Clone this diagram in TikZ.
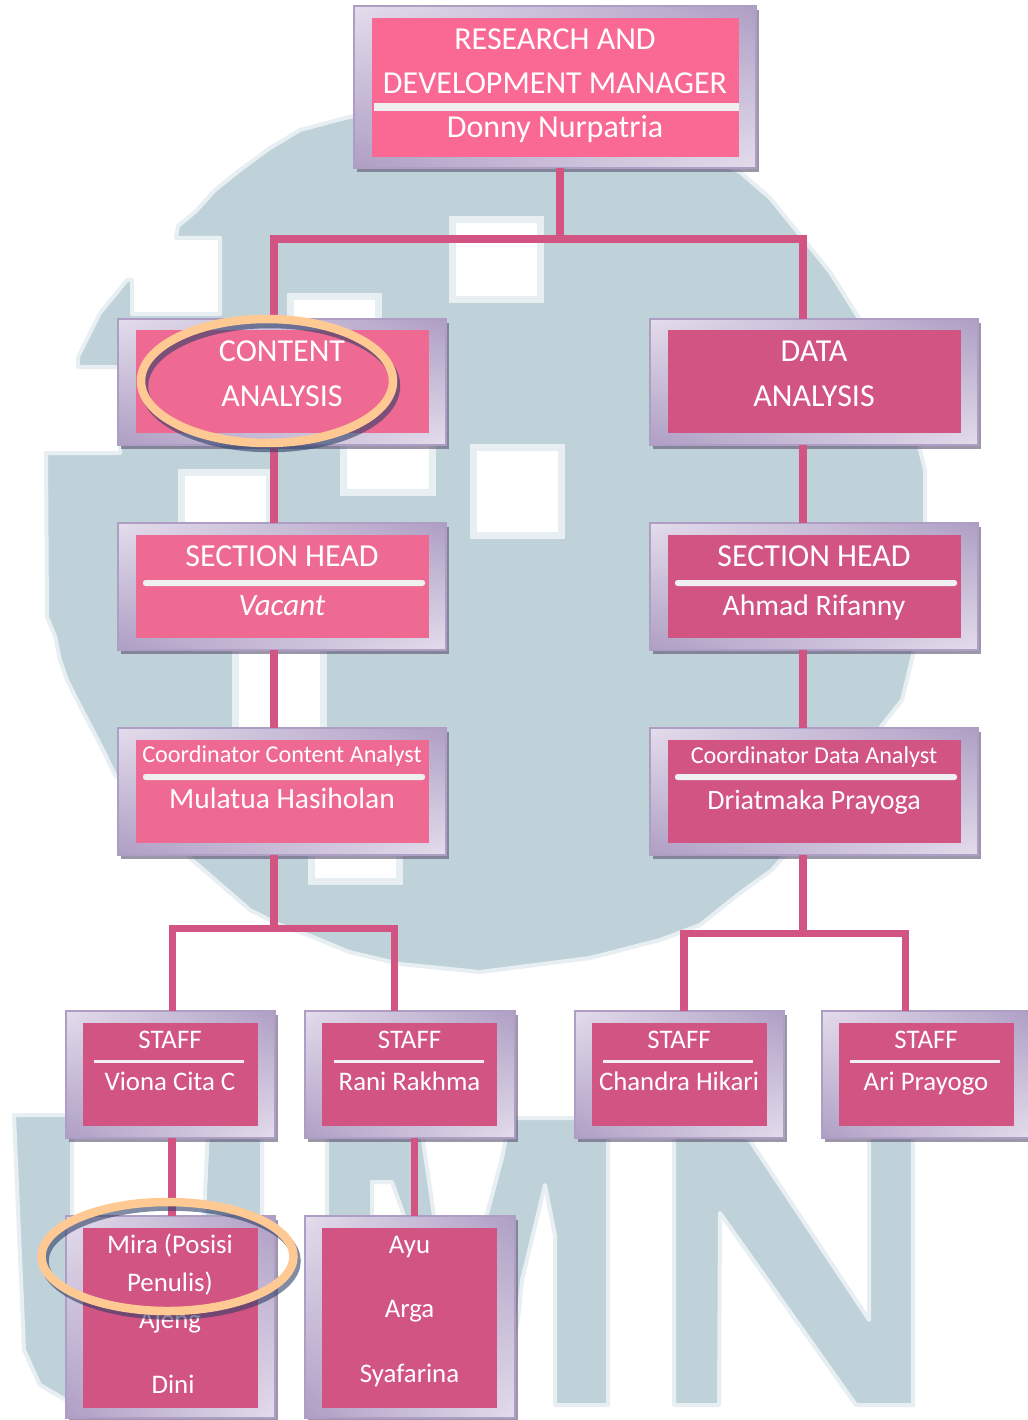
\documentclass[tikz,border=0pt]{standalone}
\usepackage{fontspec}
\setmainfont{Carlito}
\usetikzlibrary{shapes.geometric,shadows,calc,shadings}
\definecolor{wm}{HTML}{C0D2D9}
\definecolor{wmhalo}{HTML}{E8EFF2}
\definecolor{pinkA}{HTML}{D25483}
\definecolor{pinkB}{HTML}{EE6A92}
\definecolor{pinkC}{HTML}{FA6993}
\definecolor{frameL}{HTML}{E4DDEC}
\definecolor{frameD}{HTML}{AE9EC4}
\definecolor{barc}{HTML}{F0F0F0}
\definecolor{ringc}{HTML}{FFC993}
\definecolor{ringsh}{HTML}{2E3F68}
\definecolor{shadowc}{HTML}{5A5070}
\tikzset{
  x=1pt,y=-1pt,
  wmshape/.style={fill=wm,draw=wmhalo,line width=4pt,line join=round},
  wmhole/.style={fill=white,draw=wmhalo,line width=7pt},
  frame/.style={rectangle,inner sep=0,outer sep=0,draw=frameD,line width=1.5pt,shade,
    upper left=frameL,upper right=frameD,lower left=frameD,lower right=frameL,
    drop shadow={shadow xshift=3pt,shadow yshift=-4pt,fill=shadowc,opacity=.6}},
  panel/.style={rectangle,inner sep=0,outer sep=0,draw=none,fill=#1},
  hbar/.style={rectangle,inner sep=0,outer sep=0,draw=none,fill=barc},
  hbarr/.style={hbar,rounded corners=2.5pt},
  link/.style={draw=pinkA,line width=7.5pt,line cap=butt},
  txt/.style={inner sep=0,outer sep=0,anchor=base,text=white,font=\fontsize{#1}{#1}\selectfont},
  ital/.style={inner sep=0,outer sep=0,anchor=base,text=white,font=\fontsize{#1}{#1}\selectfont\itshape},
  ring/.style={ellipse,inner sep=0,outer sep=0,draw=ringc,line width=8.5pt,fill=none},
  ringshadow/.style={ellipse,inner sep=0,outer sep=0,draw=ringsh,line width=8.5pt,fill=none,opacity=.6},
}
% name, x1, y1, x2, y2, style
\newcommand{\placebox}[6]{%
  \pgfmathsetmacro{\bw}{#4-#2}\pgfmathsetmacro{\bh}{#5-#3}%
  \pgfmathsetmacro{\bx}{(#2+#4)/2}\pgfmathsetmacro{\by}{(#3+#5)/2}%
  \node[#6,minimum width=\bw pt,minimum height=\bh pt] (#1) at (\bx,\by) {};%
}
\begin{document}
\begin{tikzpicture}
\useasboundingbox (0,0) rectangle (1027,1420);
\fill[white] (0,0) rectangle (1027,1420);
% watermark
\draw[wmshape] (345,118) -- (420,104) -- (560,100) -- (740,172) -- (770,198) -- (800,235) -- (830,272) -- (860,320) -- (885,360) -- (910,410) -- (925,470) -- (925,525) -- (913,655) -- (902,700) -- (880,728) -- (783,857) -- (772,870) -- (740,893) -- (700,925) -- (660,940) -- (590,958) -- (480,972) -- (400,964) -- (349,952) -- (313,937) -- (280,925) -- (250,910) -- (190,858) -- (115,775) -- (103,750) -- (90,725) -- (78,702) -- (67,680) -- (60,660) -- (55,636) -- (47,617) -- (46,453) -- (120,453) -- (120,367) -- (78,367) -- (78,357) -- (90,333) -- (100,313) -- (127,280) -- (132,280) -- (132,314) -- (220,314) -- (220,238) -- (176,238) -- (178,226) -- (195,212) -- (215,190) -- (240,170) -- (270,148) -- (300,130) -- cycle;
\draw[wmhole] (452,220) rectangle (540,300);
\draw[wmhole] (290,297) rectangle (378,330);
\draw[wmhole] (343,440) rectangle (432,492);
\draw[wmhole] (473,447) rectangle (561,535);
\draw[wmhole] (181,472) rectangle (269,530);
\draw[wmhole] (235,640) rectangle (323,735);
\draw[wmhole] (311,850) rectangle (399,881);
% U
\draw[wmshape] (14,1115) -- (72,1115) -- (72,1300) -- (200,1300) -- (208,1130) -- (262,1130) -- (262,1400) -- (66,1400) -- (40,1385) -- (24,1350) -- cycle;
% M
\draw[wmshape] (327,1400) -- (327,1118) -- (415,1118) -- (423,1140) -- (434,1216) -- (462,1300) -- (490,1203) -- (502,1158) -- (510,1118) -- (608,1118) -- (608,1405) -- (555,1405) -- (555,1235) -- (545,1185) -- (522,1280) -- (518,1320) -- (500,1400) -- (470,1400) -- (392,1182) -- (372,1182) -- (372,1400) -- cycle;
% N
\draw[wmshape] (674,1405) -- (674,1118) -- (735,1118) -- (869,1320) -- (869,1118) -- (913,1118) -- (913,1405) -- (856,1405) -- (720,1213) -- (719,1405) -- cycle;
% frames
\placebox{top}{354}{6}{756}{168}{frame}
\placebox{ca}{118}{319}{446}{445}{frame}
\placebox{da}{650}{319}{978}{445}{frame}
\placebox{sl}{118}{523}{446}{650}{frame}
\placebox{sr}{650}{523}{978}{650}{frame}
\placebox{cl}{118}{728}{446}{855}{frame}
\placebox{cr}{650}{728}{978}{855}{frame}
\placebox{s1}{66}{1011}{275}{1138}{frame}
\placebox{s2}{305}{1011}{515}{1138}{frame}
\placebox{s3}{575}{1011}{784}{1138}{frame}
\placebox{s4}{822}{1011}{1030}{1138}{frame}
\placebox{b1}{66}{1216}{275}{1418}{frame}
\placebox{b2}{305}{1216}{515}{1418}{frame}
% panels
\placebox{ptop}{372}{18}{739}{157}{panel=pinkC}
\placebox{pca}{136}{330}{429}{433}{panel=pinkB}
\placebox{pda}{668}{330}{961}{433}{panel=pinkA}
\placebox{psl}{136}{535}{429}{638}{panel=pinkB}
\placebox{psr}{668}{535}{961}{638}{panel=pinkA}
\placebox{pcl}{136}{740}{429}{843}{panel=pinkB}
\placebox{pcr}{668}{740}{961}{843}{panel=pinkA}
\placebox{ps1}{83}{1023}{258}{1126}{panel=pinkA}
\placebox{ps2}{322}{1023}{497}{1126}{panel=pinkA}
\placebox{ps3}{592}{1023}{767}{1126}{panel=pinkA}
\placebox{ps4}{839}{1023}{1014}{1126}{panel=pinkA}
\placebox{pb1}{83}{1228}{258}{1408}{panel=pinkA}
\placebox{pb2}{322}{1228}{497}{1408}{panel=pinkA}
% bars
\placebox{btop}{374}{103}{739}{111}{hbar}
\placebox{bsl}{143}{580}{425}{586}{hbarr}
\placebox{bsr}{675}{580}{957}{586}{hbarr}
\placebox{bcl}{143}{774}{425}{780}{hbarr}
\placebox{bcr}{675}{774}{957}{780}{hbarr}
\placebox{bs1}{94}{1060}{244}{1063}{hbar}
\placebox{bs2}{334}{1060}{484}{1063}{hbar}
\placebox{bs3}{603}{1060}{753}{1063}{hbar}
\placebox{bs4}{850}{1060}{1000}{1063}{hbar}
% junctions
\coordinate (j0) at (560,239);
\coordinate (j0l) at (274,239);
\coordinate (j0r) at (803,239);
\coordinate (jl) at (274,928.5);
\coordinate (jl1) at (172.5,928.5);
\coordinate (jl2) at (394.5,928.5);
\coordinate (jr) at (803,933.5);
\coordinate (jr1) at (684,933.5);
\coordinate (jr2) at (905.5,933.5);
\coordinate (v1) at (172,1175);
\coordinate (v2) at (414.5,1175);
% connectors
\draw[link] (top.south -| j0) -- (j0);
\draw[link,line cap=square] (ca.north -| j0l) -- (j0l) -- (j0r) -- (da.north -| j0r);
\draw[link] (ca.south -| j0l) -- (sl.north -| j0l);
\draw[link] (sl.south -| j0l) -- (cl.north -| j0l);
\draw[link] (cl.south -| jl) -- (jl);
\draw[link] (s1.north -| jl1) -- (jl1) -- (jl2) -- (s2.north -| jl2);
\draw[link] (da.south -| jr) -- (sr.north -| jr);
\draw[link] (sr.south -| jr) -- (cr.north -| jr);
\draw[link] (cr.south -| jr) -- (jr);
\draw[link] (s3.north -| jr1) -- (jr1) -- (jr2) -- (s4.north -| jr2);
\draw[link] (s1.south -| v1) -- (b1.north -| v1);
\draw[link] (s2.south -| v2) -- (b2.north -| v2);
% texts
\node[txt=32] (t1) at (555,49.5) {RESEARCH AND};
\node[txt=32] (t2) at (555,94) {DEVELOPMENT MANAGER};
\node[txt=32] (t3) at (555,138) {Donny Nurpatria};
\node[txt=32] (t4) at (282,361) {CONTENT};
\node[txt=32] (t5) at (282,406) {ANALYSIS};
\node[txt=32] (t6) at (814,361) {DATA};
\node[txt=32] (t7) at (814,406) {ANALYSIS};
\node[txt=32] (t8) at (282,566) {SECTION HEAD};
\node[ital=31] (t9) at (282,615) {Vacant};
\node[txt=32] (t10) at (814,566) {SECTION HEAD};
\node[txt=29.7] (t11) at (814,615) {Ahmad Rifanny};
\node[txt=24.2] (t12) at (282,762) {Coordinator Content Analyst};
\node[txt=29.5] (t13) at (282,808) {Mulatua Hasiholan};
\node[txt=24.2] (t14) at (814,763) {Coordinator Data Analyst};
\node[txt=28] (t15) at (814,809) {Driatmaka Prayoga};
\node[txt=26.8] (t16) at (170,1048) {STAFF};
\node[txt=26.8] (t17) at (170,1090) {Viona Cita C};
\node[txt=26.8] (t18) at (409.5,1048) {STAFF};
\node[txt=26.8] (t19) at (409.5,1090) {Rani Rakhma};
\node[txt=26.8] (t20) at (679,1048) {STAFF};
\node[txt=26.8] (t21) at (679,1090) {Chandra Hikari};
\node[txt=26.8] (t22) at (926,1048) {STAFF};
\node[txt=26.8] (t23) at (926,1090) {Ari Prayogo};
\node[txt=26.8] (t24) at (170,1253) {Mira (Posisi};
\node[txt=26.8] (t25) at (170,1291) {Penulis)};
\node[txt=26.8] (t26) at (170,1328) {Ajeng};
\node[txt=26.8] (t27) at (173,1393) {Dini};
\node[txt=26.8] (t28) at (409.5,1253.5) {Ayu};
\node[txt=26.8] (t29) at (409.5,1317.5) {Arga};
\node[txt=26.8] (t30) at (409.5,1382) {Syafarina};
% highlight rings
\node[ringshadow,minimum width=252pt,minimum height=124pt] (r1s) at (270,386) {};
\node[ring,minimum width=252pt,minimum height=124pt] (r1) at (267,381) {};
\node[ringshadow,minimum width=252pt,minimum height=109pt] (r2s) at (170.5,1261) {};
\node[ring,minimum width=252pt,minimum height=109pt] (r2) at (167.5,1256.5) {};
\end{tikzpicture}
\end{document}
